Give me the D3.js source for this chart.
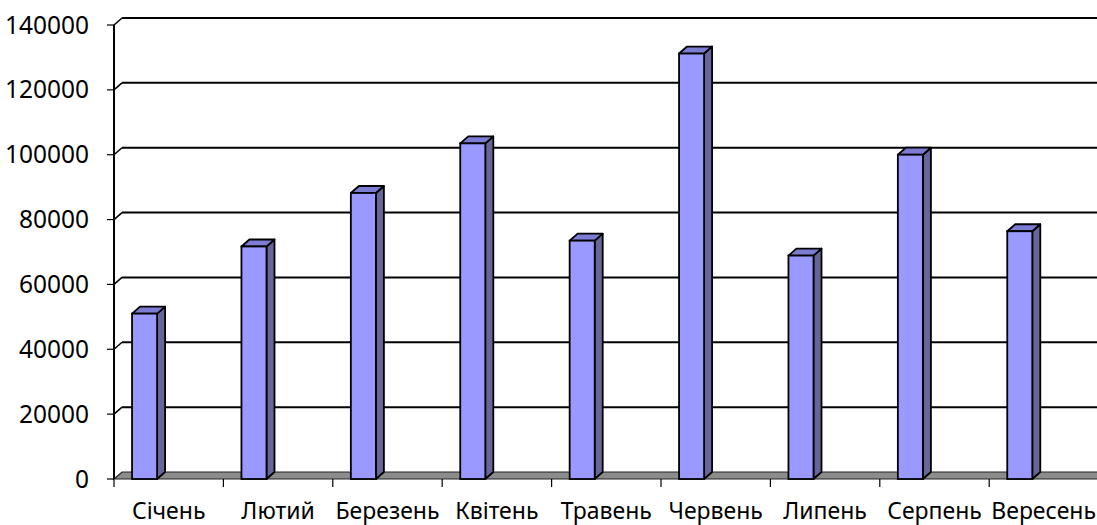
<!DOCTYPE html>
<html>
<head>
<meta charset="utf-8">
<script src="https://cdn.jsdelivr.net/npm/d3@7"></script>
<style>
html,body{margin:0;padding:0;background:#fff;}
svg{display:block;}
text{font-family:"Noto Sans",sans-serif;fill:#000;}
</style>
</head>
<body>
<svg id="chart" width="1097" height="525"></svg>
<script>
const categories = ["Січень","Лютий","Березень","Квітень","Травень","Червень","Липень","Серпень","Вересень"];
const values = [51000, 71700, 88200, 103500, 73500, 131200, 68900, 100000, 76400];
const yTicks = [0, 20000, 40000, 60000, 80000, 100000, 120000, 140000];

const svg = d3.select("#chart");
const W = 1097;
const left = 114, right = 1098.6;
const dx = 8, dy = -7;
const fsY = 24.5, fsX = 23;

const x = d3.scaleBand().domain(categories).range([left, right]);
const y = d3.scaleLinear().domain([0, 140000]).range([479, 25]);
const bw = x.bandwidth();
const barOff = bw * 0.165, barW = bw * 0.229;

const g = svg.append("g");

// back wall gridlines + left wall diagonals
yTicks.forEach(t => {
  const yf = y(t), yb = y(t) + dy;
  if (t === 0) return;
  g.append("line").attr("x1", left + dx).attr("x2", W + 20).attr("y1", yb).attr("y2", yb)
    .attr("stroke", "#000").attr("stroke-width", 2);
  g.append("line").attr("x1", left).attr("x2", left + dx).attr("y1", yf).attr("y2", yb)
    .attr("stroke", "#000").attr("stroke-width", 1.5);
});

// floor
const y0 = y(0);
g.append("path")
  .attr("d", `M${left},${y0} L${left+dx},${y0+dy} L${W+20},${y0+dy} L${W+20},${y0} Z`)
  .attr("fill", "#8c8c8c").attr("stroke", "#222").attr("stroke-width", 1.2);

// y axis
g.append("line").attr("x1", left).attr("x2", left).attr("y1", y(140000)).attr("y2", y0)
  .attr("stroke", "#000").attr("stroke-width", 2);
yTicks.forEach(t => {
  g.append("line").attr("x1", left - 7).attr("x2", left).attr("y1", y(t)).attr("y2", y(t))
    .attr("stroke", "#000").attr("stroke-width", 1.2);
  g.append("text").attr("x", 89).attr("y", y(t) + 8.5).attr("text-anchor", "end")
    .attr("font-size", fsY).text(t);
});

// x axis ticks
categories.forEach((c, i) => {
  const bx = x(c);
  g.append("line").attr("x1", bx).attr("x2", bx).attr("y1", y0).attr("y2", y0 + 8)
    .attr("stroke", "#000").attr("stroke-width", 1.2);
});

// bars
categories.forEach((c, i) => {
  const bx = x(c) + barOff;
  const yt = y(values[i]);
  const bar = g.append("g");
  bar.append("path")
    .attr("d", `M${bx+barW},${yt} L${bx+barW+dx},${yt+dy} L${bx+barW+dx},${y0+dy} L${bx+barW},${y0} Z`)
    .attr("fill", "#666699").attr("stroke", "#000").attr("stroke-width", 1.8).attr("stroke-linejoin", "round");
  bar.append("path")
    .attr("d", `M${bx},${yt} L${bx+dx},${yt+dy} L${bx+barW+dx},${yt+dy} L${bx+barW},${yt} Z`)
    .attr("fill", "#7c7cd2").attr("stroke", "#000").attr("stroke-width", 1.8).attr("stroke-linejoin", "round");
  bar.append("rect")
    .attr("x", bx).attr("y", yt).attr("width", barW).attr("height", y0 - yt)
    .attr("fill", "#9999ff").attr("stroke", "#000").attr("stroke-width", 1.8);
});

// category labels (nudged to stay inside the picture and not overlap)
const labels = categories.map(c => g.append("text")
  .attr("x", x(c) + bw / 2).attr("y", 519).attr("text-anchor", "middle")
  .attr("font-size", fsX).text(c));
const widths = labels.map(l => l.node().getComputedTextLength());
const centers = categories.map(c => x(c) + bw / 2);
const gap = 7;
for (let i = centers.length - 1; i >= 0; i--) {
  const maxRight = (i === centers.length - 1) ? W - 1 : centers[i + 1] - widths[i + 1] / 2 - gap;
  if (centers[i] + widths[i] / 2 > maxRight) centers[i] = maxRight - widths[i] / 2;
}
labels.forEach((l, i) => l.attr("x", centers[i]));
</script>
</body>
</html>
